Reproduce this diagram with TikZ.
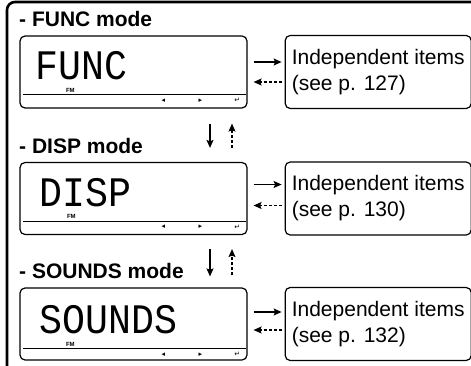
\documentclass[tikz,border=0pt]{standalone}
\usepackage{fontspec}
\setmainfont{Liberation Sans}
\newfontfamily\segfont{Liberation Mono}
\newfontfamily\symfont{DejaVu Sans}
\usepackage{tikz}
\usetikzlibrary{arrows.meta,positioning,calc}
\tikzset{
  lcdbox/.style={draw, rounded corners=5pt, line width=1.2pt,
    minimum width=227pt, minimum height=72pt, inner sep=0pt},
  itembox/.style={draw, rounded corners=5pt, line width=1.2pt,
    minimum width=186pt, minimum height=73pt, align=left, inner sep=0pt,
    font=\fontsize{21}{26}\selectfont},
  modetitle/.style={anchor=base west, inner sep=0pt,
    font=\fontsize{21}{25}\selectfont\bfseries},
  segtext/.style={anchor=west, inner sep=0pt, font=\segfont\fontsize{42}{42}\selectfont},
  fmlabel/.style={inner sep=0pt, font=\fontsize{6}{6}\selectfont\bfseries},
  keyglyph/.style={inner sep=0pt, font=\symfont\fontsize{7}{7}\selectfont},
  lcdline/.style={line width=1pt},
  frameline/.style={line width=2.6pt, rounded corners=8pt},
  flow/.style={-{Stealth[length=8pt,width=7pt,inset=1.5pt]}, line width=1.1pt},
  dashedflow/.style={flow, dash pattern=on 3pt off 2pt}
}
\begin{document}
\begin{tikzpicture}[x=1pt, y=-1pt]
\useasboundingbox (0,0) rectangle (471,366);
\clip (0,0) rectangle (471,366);
\draw[frameline] (7,380) -- (7,2) -- (485,2);

% mode titles
\node[modetitle] (titlefunc) at (19,27) {- FUNC mode};
\node[modetitle] (titledisp) at (19,154) {- DISP mode};
\node[modetitle] (titlesounds) at (19,278) {- SOUNDS mode};

% LCD screens
\node[lcdbox] (lcdfunc) at (133.5,72) {};
\node[lcdbox] (lcddisp) at (133.5,198.5) {};
\node[lcdbox] (lcdsounds) at (133.5,324) {};

\node[segtext] (segfunc) at ([shift={(16,30.5)}]lcdfunc.north west) {\scalebox{0.91}[1]{FUNC}};
\node[segtext] (segdisp) at ([shift={(20,30.5)}]lcddisp.north west) {\scalebox{0.91}[1]{DISP}};
\node[segtext] (segsounds) at ([shift={(20,32.5)}]lcdsounds.north west) {\scalebox{0.91}[1]{SOUNDS}};

\node[fmlabel] (fmfunc) at ([shift={(51,55)}]lcdfunc.north west) {FM};
\node[fmlabel] (fmdisp) at ([shift={(52,55)}]lcddisp.north west) {FM};
\node[fmlabel] (fmsounds) at ([shift={(51,57)}]lcdsounds.north west) {FM};

\draw[lcdline] ([shift={(4,59.5)}]lcdfunc.north west) -- ([shift={(-2,59.5)}]lcdfunc.north east);
\draw[lcdline] ([shift={(4,59.5)}]lcddisp.north west) -- ([shift={(-2,59.5)}]lcddisp.north east);
\draw[lcdline] ([shift={(4,61.5)}]lcdsounds.north west) -- ([shift={(-2,61.5)}]lcdsounds.north east);

\node[keyglyph] (leftfunc) at ([shift={(144,65)}]lcdfunc.north west) {◂};
\node[keyglyph] (rightfunc) at ([shift={(181,65)}]lcdfunc.north west) {▸};
\node[keyglyph] (enterfunc) at ([shift={(218,65)}]lcdfunc.north west) {↵};
\node[keyglyph] (leftdisp) at ([shift={(144,65)}]lcddisp.north west) {◂};
\node[keyglyph] (rightdisp) at ([shift={(181,65)}]lcddisp.north west) {▸};
\node[keyglyph] (enterdisp) at ([shift={(218,65)}]lcddisp.north west) {↵};
\node[keyglyph] (leftsounds) at ([shift={(144,67)}]lcdsounds.north west) {◂};
\node[keyglyph] (rightsounds) at ([shift={(181,67)}]lcdsounds.north west) {▸};
\node[keyglyph] (entersounds) at ([shift={(218,67)}]lcdsounds.north west) {↵};

% independent items
\node[itembox, right=37pt of lcdfunc] (itemfunc) {Independent items\\(see p. 127)};
\node[itembox, right=37pt of lcddisp] (itemdisp) {Independent items\\(see p. 130)};
\node[itembox, right=37pt of lcdsounds] (itemsounds) {Independent items\\(see p. 132)};

\draw[flow, shorten <=6pt, shorten >=3pt] ([yshift=10pt]lcdfunc.east) -- ([yshift=10pt]itemfunc.west);
\draw[dashedflow, shorten <=3pt, shorten >=6pt] ([yshift=-10pt]itemfunc.west) -- ([yshift=-10pt]lcdfunc.east);
\draw[flow, shorten <=6pt, shorten >=3pt] ([yshift=14pt]lcddisp.east) -- ([yshift=14pt]itemdisp.west);
\draw[dashedflow, shorten <=3pt, shorten >=6pt] ([yshift=-7pt]itemdisp.west) -- ([yshift=-7pt]lcddisp.east);
\draw[flow, shorten <=6pt, shorten >=3pt] ([yshift=12pt]lcdsounds.east) -- ([yshift=12pt]itemsounds.west);
\draw[dashedflow, shorten <=3pt, shorten >=6pt] ([yshift=-6pt]itemsounds.west) -- ([yshift=-6pt]lcdsounds.east);

% mode switching
\draw[flow, shorten <=15pt, shorten >=14pt] ([xshift=76.5pt]lcdfunc.south) -- ([xshift=76.5pt]lcddisp.north);
\draw[dashedflow, shorten <=14pt, shorten >=15pt] ([xshift=98.5pt]lcddisp.north) -- ([xshift=98.5pt]lcdfunc.south);
\draw[flow, shorten <=14pt, shorten >=11pt] ([xshift=76.5pt]lcddisp.south) -- ([xshift=76.5pt]lcdsounds.north);
\draw[dashedflow, shorten <=12pt, shorten >=14pt] ([xshift=98.5pt]lcdsounds.north) -- ([xshift=98.5pt]lcddisp.south);
\end{tikzpicture}
\end{document}
